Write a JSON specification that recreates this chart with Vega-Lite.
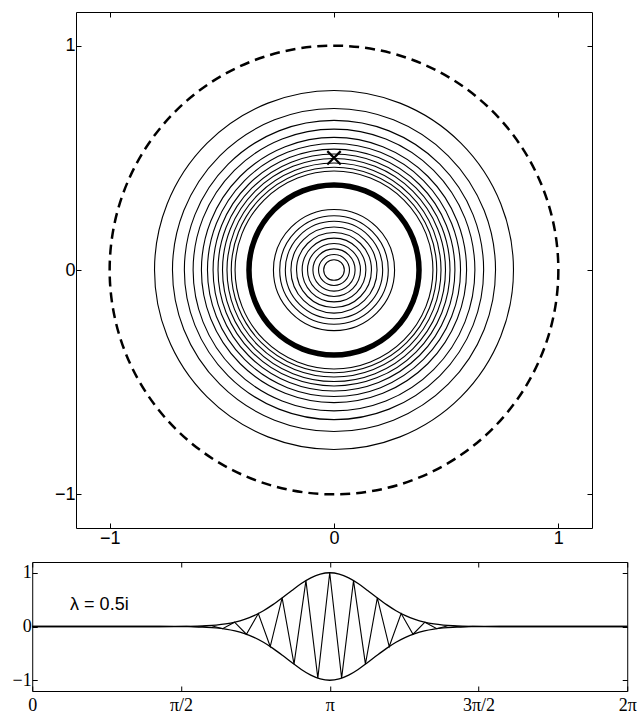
{
  "$schema": "https://vega.github.io/schema/vega-lite/v6.json",
  "padding": {"left": 11, "top": 11, "right": 0, "bottom": 0},
  "center": true,
  "spacing": 13,
  "background": "white",
  "config": {
    "view": {"stroke": "black", "strokeWidth": 1},
    "axis": {"grid": false, "domain": false, "ticks": true, "tickSize": -5, "tickColor": "black", "tickWidth": 1, "labelColor": "black", "labelFontSize": 18, "labelFont": "Liberation Sans", "labelPadding": 6, "labelFlush": false, "labelOverlap": false, "labelBound": false, "title": null}
  },
  "datasets": {
    "contours": [
      {"cx": 0, "cy": 0, "r": 0.046}, {"cx": 0, "cy": 0, "r": 0.069}, {"cx": 0, "cy": 0, "r": 0.094}, {"cx": 0, "cy": 0, "r": 0.118}, {"cx": 0, "cy": 0, "r": 0.142},
      {"cx": 0, "cy": 0, "r": 0.167}, {"cx": 0, "cy": 0, "r": 0.192}, {"cx": 0, "cy": 0, "r": 0.217}, {"cx": 0, "cy": 0, "r": 0.242}, {"cx": 0, "cy": 0, "r": 0.27},
      {"cx": 0, "cy": 0, "r": 0.441}, {"cx": 0, "cy": 0, "r": 0.458}, {"cx": 0, "cy": 0, "r": 0.477}, {"cx": 0, "cy": 0, "r": 0.497}, {"cx": 0, "cy": 0, "r": 0.517},
      {"cx": 0, "cy": 0, "r": 0.539}, {"cx": 0, "cy": 0, "r": 0.564}, {"cx": 0, "cy": 0, "r": 0.591}, {"cx": 0, "cy": 0, "r": 0.628}, {"cx": 0, "cy": 0, "r": 0.667},
      {"cx": 0, "cy": 0, "r": 0.72}, {"cx": 0, "cy": 0, "r": 0.8}
    ],
    "unit": [{"cx": 0, "cy": 0, "r": 1}],
    "thick": [{"cx": 0, "cy": 0, "r": 0.379}],
    "marker": [{"cx": 0, "cy": 0.5}],
    "wave": [
      {"x": 0, "y": 0}, {"x": 1.2566, "y": 0}, {"x": 1.3823, "y": 0.0004}, {"x": 1.508, "y": -0.0013}, {"x": 1.6336, "y": 0.0034},
      {"x": 1.7593, "y": -0.0084}, {"x": 1.885, "y": 0.0193}, {"x": 2.0106, "y": -0.041}, {"x": 2.1363, "y": 0.08}, {"x": 2.2619, "y": -0.144},
      {"x": 2.3876, "y": 0.241}, {"x": 2.5133, "y": -0.373}, {"x": 2.6389, "y": 0.532}, {"x": 2.7646, "y": -0.701}, {"x": 2.8903, "y": 0.854},
      {"x": 3.0159, "y": -0.961}, {"x": 3.1416, "y": 1}, {"x": 3.2673, "y": -0.961}, {"x": 3.3929, "y": 0.854}, {"x": 3.5186, "y": -0.701},
      {"x": 3.6442, "y": 0.532}, {"x": 3.7699, "y": -0.373}, {"x": 3.8956, "y": 0.241}, {"x": 4.0212, "y": -0.144}, {"x": 4.1469, "y": 0.08},
      {"x": 4.2726, "y": -0.041}, {"x": 4.3982, "y": 0.0193}, {"x": 4.5239, "y": -0.0084}, {"x": 4.6496, "y": 0.0034}, {"x": 4.7752, "y": -0.0013},
      {"x": 4.9009, "y": 0.0004}, {"x": 5.0265, "y": 0}, {"x": 6.2832, "y": 0}
    ],
    "envelope": [
      {"side": "upper", "x": 0, "y": 0}, {"side": "upper", "x": 1.1416, "y": 0}, {"side": "upper", "x": 1.3416, "y": 0.0003}, {"side": "upper", "x": 1.5416, "y": 0.0017},
      {"side": "upper", "x": 1.6416, "y": 0.0036}, {"side": "upper", "x": 1.7416, "y": 0.0074}, {"side": "upper", "x": 1.8416, "y": 0.0146}, {"side": "upper", "x": 1.9416, "y": 0.0273},
      {"side": "upper", "x": 2.0416, "y": 0.0486}, {"side": "upper", "x": 2.1416, "y": 0.082}, {"side": "upper", "x": 2.2416, "y": 0.132}, {"side": "upper", "x": 2.3416, "y": 0.202},
      {"side": "upper", "x": 2.4416, "y": 0.294}, {"side": "upper", "x": 2.5416, "y": 0.407}, {"side": "upper", "x": 2.6416, "y": 0.535}, {"side": "upper", "x": 2.7416, "y": 0.67},
      {"side": "upper", "x": 2.8416, "y": 0.799}, {"side": "upper", "x": 2.9416, "y": 0.905}, {"side": "upper", "x": 3.0416, "y": 0.975}, {"side": "upper", "x": 3.1416, "y": 1},
      {"side": "upper", "x": 3.2416, "y": 0.975}, {"side": "upper", "x": 3.3416, "y": 0.905}, {"side": "upper", "x": 3.4416, "y": 0.799}, {"side": "upper", "x": 3.5416, "y": 0.67},
      {"side": "upper", "x": 3.6416, "y": 0.535}, {"side": "upper", "x": 3.7416, "y": 0.407}, {"side": "upper", "x": 3.8416, "y": 0.294}, {"side": "upper", "x": 3.9416, "y": 0.202},
      {"side": "upper", "x": 4.0416, "y": 0.132}, {"side": "upper", "x": 4.1416, "y": 0.082}, {"side": "upper", "x": 4.2416, "y": 0.0486}, {"side": "upper", "x": 4.3416, "y": 0.0273},
      {"side": "upper", "x": 4.4416, "y": 0.0146}, {"side": "upper", "x": 4.5416, "y": 0.0074}, {"side": "upper", "x": 4.6416, "y": 0.0036}, {"side": "upper", "x": 4.7416, "y": 0.0017},
      {"side": "upper", "x": 4.9416, "y": 0.0003}, {"side": "upper", "x": 5.1416, "y": 0}, {"side": "upper", "x": 6.2832, "y": 0},
      {"side": "lower", "x": 0, "y": 0}, {"side": "lower", "x": 1.1416, "y": 0}, {"side": "lower", "x": 1.3416, "y": -0.0003}, {"side": "lower", "x": 1.5416, "y": -0.0017},
      {"side": "lower", "x": 1.6416, "y": -0.0036}, {"side": "lower", "x": 1.7416, "y": -0.0074}, {"side": "lower", "x": 1.8416, "y": -0.0146}, {"side": "lower", "x": 1.9416, "y": -0.0273},
      {"side": "lower", "x": 2.0416, "y": -0.0486}, {"side": "lower", "x": 2.1416, "y": -0.082}, {"side": "lower", "x": 2.2416, "y": -0.132}, {"side": "lower", "x": 2.3416, "y": -0.202},
      {"side": "lower", "x": 2.4416, "y": -0.294}, {"side": "lower", "x": 2.5416, "y": -0.407}, {"side": "lower", "x": 2.6416, "y": -0.535}, {"side": "lower", "x": 2.7416, "y": -0.67},
      {"side": "lower", "x": 2.8416, "y": -0.799}, {"side": "lower", "x": 2.9416, "y": -0.905}, {"side": "lower", "x": 3.0416, "y": -0.975}, {"side": "lower", "x": 3.1416, "y": -1},
      {"side": "lower", "x": 3.2416, "y": -0.975}, {"side": "lower", "x": 3.3416, "y": -0.905}, {"side": "lower", "x": 3.4416, "y": -0.799}, {"side": "lower", "x": 3.5416, "y": -0.67},
      {"side": "lower", "x": 3.6416, "y": -0.535}, {"side": "lower", "x": 3.7416, "y": -0.407}, {"side": "lower", "x": 3.8416, "y": -0.294}, {"side": "lower", "x": 3.9416, "y": -0.202},
      {"side": "lower", "x": 4.0416, "y": -0.132}, {"side": "lower", "x": 4.1416, "y": -0.082}, {"side": "lower", "x": 4.2416, "y": -0.0486}, {"side": "lower", "x": 4.3416, "y": -0.0273},
      {"side": "lower", "x": 4.4416, "y": -0.0146}, {"side": "lower", "x": 4.5416, "y": -0.0074}, {"side": "lower", "x": 4.6416, "y": -0.0036}, {"side": "lower", "x": 4.7416, "y": -0.0017},
      {"side": "lower", "x": 4.9416, "y": -0.0003}, {"side": "lower", "x": 5.1416, "y": 0}, {"side": "lower", "x": 6.2832, "y": 0}
    ],
    "label": [{"x": 0.40, "y": 0.313, "text": "λ = 0.5i"}]
  },
  "vconcat": [
    {
      "width": 516,
      "height": 516,
      "layer": [
        {
          "data": {"name": "contours"},
          "mark": {"type": "point", "shape": "circle", "filled": false, "color": "black", "opacity": 1, "strokeWidth": 1.1},
          "encoding": {
            "x": {"field": "cx", "type": "quantitative", "scale": {"domain": [-1.15, 1.15], "nice": false, "zero": false}, "axis": {"orient": "bottom", "values": [-1, 0, 1]}},
            "y": {"field": "cy", "type": "quantitative", "scale": {"domain": [-1.15, 1.15], "nice": false, "zero": false}, "axis": {"orient": "left", "values": [-1, 0, 1]}},
            "size": {"field": "r", "type": "quantitative", "scale": {"type": "pow", "exponent": 2, "domain": [0, 1], "range": [0, 201332]}, "legend": null}
          }
        },
        {
          "data": {"name": "unit"},
          "mark": {"type": "point", "shape": "circle", "filled": false, "color": "black", "opacity": 1, "strokeWidth": 2.5, "strokeDash": [10, 6]},
          "encoding": {
            "x": {"field": "cx", "type": "quantitative", "axis": null},
            "y": {"field": "cy", "type": "quantitative", "axis": null},
            "size": {"field": "r", "type": "quantitative", "legend": null}
          }
        },
        {
          "data": {"name": "thick"},
          "mark": {"type": "point", "shape": "circle", "filled": false, "color": "black", "opacity": 1, "strokeWidth": 5.5},
          "encoding": {
            "x": {"field": "cx", "type": "quantitative", "axis": null},
            "y": {"field": "cy", "type": "quantitative", "axis": null},
            "size": {"field": "r", "type": "quantitative", "legend": null}
          }
        },
        {
          "data": {"name": "marker"},
          "mark": {"type": "point", "shape": "M-1,-1L1,1M-1,1L1,-1", "filled": false, "color": "black", "opacity": 1, "strokeWidth": 2.2, "size": 180},
          "encoding": {
            "x": {"field": "cx", "type": "quantitative", "axis": null},
            "y": {"field": "cy", "type": "quantitative", "axis": null}
          }
        },
        {
          "data": {"name": "marker"},
          "mark": {"type": "point", "opacity": 0},
          "encoding": {
            "x": {"field": "cx", "type": "quantitative", "axis": {"orient": "top", "values": [-1, 0, 1], "labels": false}},
            "y": {"field": "cy", "type": "quantitative", "axis": {"orient": "right", "values": [-1, 0, 1], "labels": false}}
          }
        }
      ],
      "resolve": {"axis": {"x": "independent", "y": "independent"}}
    },
    {
      "width": 595,
      "height": 129,
      "layer": [
        {
          "data": {"name": "wave"},
          "mark": {"type": "line", "color": "black", "strokeWidth": 1.1},
          "encoding": {
            "x": {"field": "x", "type": "quantitative", "scale": {"domain": [0, 6.2832], "nice": false, "zero": false},
                  "axis": {"orient": "bottom", "values": [0, 1.5708, 3.1416, 4.7124, 6.2832], "labelFont": "Liberation Serif", "labelPadding": 10,
                           "labelExpr": "datum.value < 0.1 ? '0' : datum.value < 2 ? 'π/2' : datum.value < 4 ? 'π' : datum.value < 5 ? '3π/2' : '2π'"}},
            "y": {"field": "y", "type": "quantitative", "scale": {"domain": [-1.2, 1.2], "nice": false, "zero": false},
                  "axis": {"orient": "left", "values": [-1, 0, 1], "labelFont": "Liberation Serif"}}
          }
        },
        {
          "data": {"name": "envelope"},
          "mark": {"type": "line", "color": "black", "strokeWidth": 1.3, "interpolate": "monotone"},
          "encoding": {
            "x": {"field": "x", "type": "quantitative", "axis": null},
            "y": {"field": "y", "type": "quantitative", "axis": null},
            "detail": {"field": "side", "type": "nominal"}
          }
        },
        {
          "data": {"name": "label"},
          "mark": {"type": "text", "align": "left", "baseline": "alphabetic", "font": "Liberation Sans", "fontSize": 18, "color": "black"},
          "encoding": {
            "x": {"field": "x", "type": "quantitative", "axis": null},
            "y": {"field": "y", "type": "quantitative", "axis": null},
            "text": {"field": "text", "type": "nominal"}
          }
        },
        {
          "data": {"name": "label"},
          "mark": {"type": "point", "opacity": 0},
          "encoding": {
            "x": {"field": "x", "type": "quantitative", "axis": {"orient": "top", "values": [0, 1.5708, 3.1416, 4.7124, 6.2832], "labels": false}},
            "y": {"field": "y", "type": "quantitative", "axis": {"orient": "right", "values": [-1, 0, 1], "labels": true, "labelOpacity": 0, "labelPadding": 4, "labelExpr": "datum.value == 0 ? '1' : ''"}}
          }
        }
      ],
      "resolve": {"axis": {"x": "independent", "y": "independent"}}
    }
  ]
}
